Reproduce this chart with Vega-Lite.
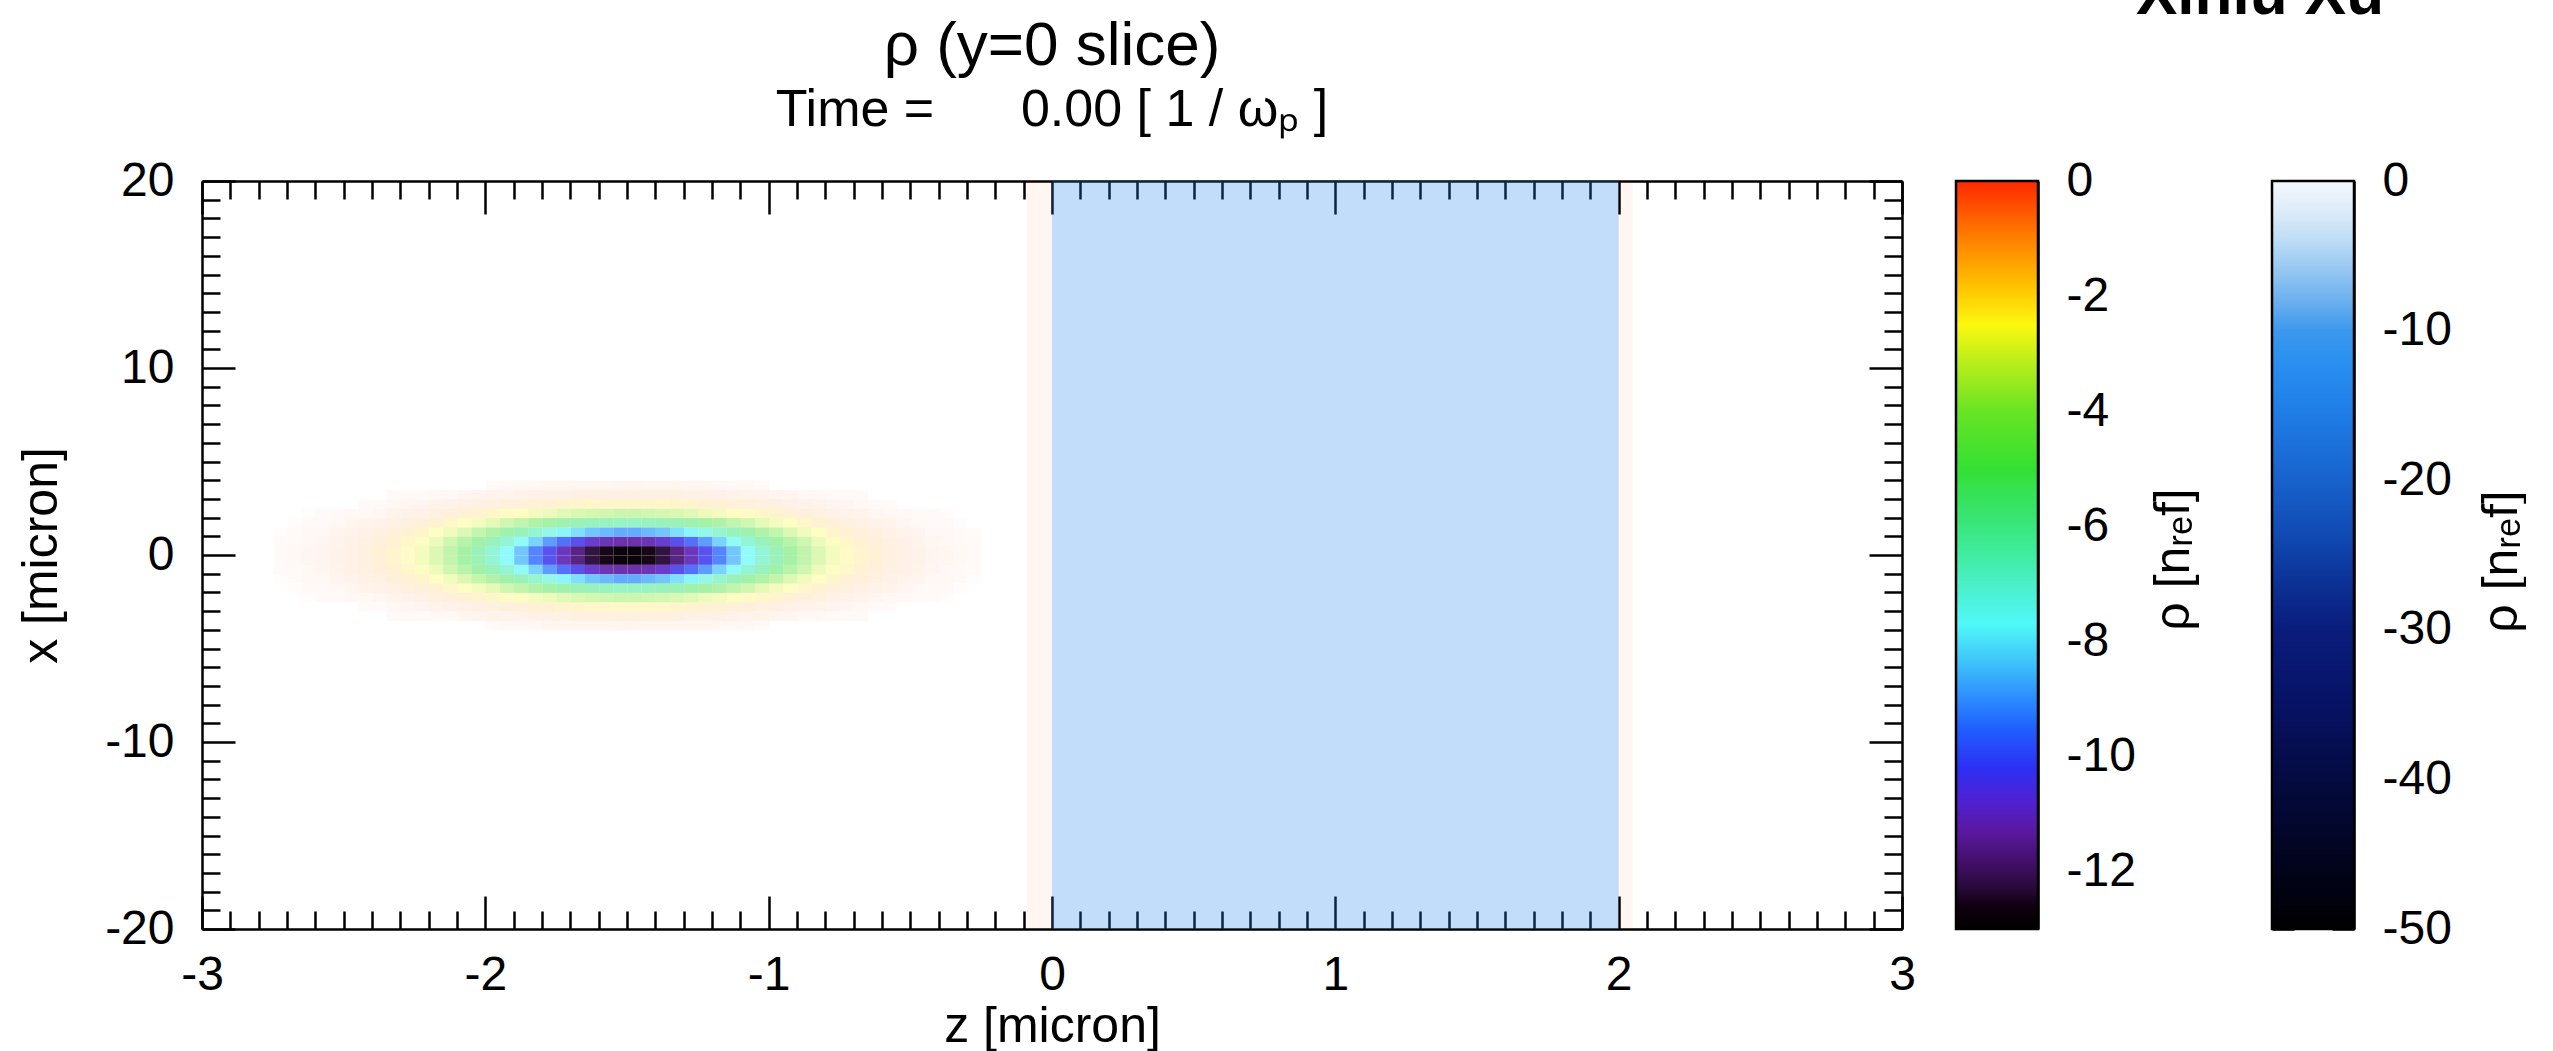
{
  "$schema": "https://vega.github.io/schema/vega-lite/v6.json",
  "background": "white",
  "autosize": {"type": "pad"},
  "padding": {"left": 16, "top": -36, "right": 0, "bottom": 0},
  "config": {
    "font": "Liberation Sans",
    "view": {"stroke": null},
    "axis": {"zindex": 1, "grid": false, "labelFont": "Liberation Sans", "labelFontSize": 48, "labelColor": "black", "tickColor": "black", "tickWidth": 2.5, "domainColor": "black", "domainWidth": 2.5, "titleFont": "Liberation Sans", "titleFontSize": 50, "titleFontWeight": "normal", "titleColor": "black", "labelFlush": false, "labelOverlap": false},
    "title": {"font": "Liberation Sans", "color": "black", "fontWeight": "normal", "subtitleFont": "Liberation Sans", "subtitleColor": "black"}
  },
  "bounds": "flush",
  "spacing": 54,
  "hconcat": [
    {
      "width": 1700,
      "height": 748,
      "title": {"text": "ρ (y=0 slice)", "subtitle": "Time =\u00a0\u00a0\u00a0\u00a0\u00a0 0.00 [ 1 / ωₚ ]", "fontSize": 62, "subtitleFontSize": 52, "anchor": "middle", "frame": "group", "offset": 20, "subtitlePadding": 7},
      "resolve": {"scale": {"color": "independent", "opacity": "independent"}, "axis": {"x": "independent", "y": "independent"}},
      "layer": [
        {
          "data": {"values": [{"z0": 0, "z1": 2, "x0": -20, "x1": 20, "rho": -14}]},
          "mark": {"type": "rect"},
          "encoding": {
            "x": {"field": "z0", "type": "quantitative", "scale": {"domain": [-3, 3], "nice": false, "zero": false},
                  "axis": {"orient": "bottom", "values": [-3, -2, -1, 0, 1, 2, 3], "tickSize": -33, "labelPadding": 55, "labelExpr": "'' + datum.value", "title": "z [micron]", "titleX": 850, "titleY": 97, "titleBaseline": "middle", "titleAlign": "center", "domain": true}},
            "x2": {"field": "z1"},
            "y": {"field": "x0", "type": "quantitative", "scale": {"domain": [-20, 20], "nice": false, "zero": false},
                  "axis": {"orient": "left", "values": [-20, -10, 0, 10, 20], "tickSize": -33, "labelPadding": 61, "labelExpr": "'' + datum.value", "title": "x [micron]", "titleX": -161, "titleY": 374, "titleAngle": 270, "titleBaseline": "middle", "titleAlign": "center", "domain": true}},
            "y2": {"field": "x1"},
            "color": {"field": "rho", "type": "quantitative", "legend": null,
                      "scale": {"domain": [-50, -45, -40, -35, -30, -27, -24, -20, -15, -12, -10, -8, -6, -4, -2, 0], "range": ["#000000", "#020420", "#050a40", "#071264", "#0a1c7c", "#0c3094", "#1048b0", "#1862cc", "#2080e8", "#2a90f0", "#3c98ec", "#6cb0ee", "#94c6f1", "#bcdcf5", "#dcecf9", "#f4f8fc"], "interpolate": "rgb", "nice": false, "zero": false}},
            "opacity": {"field": "rho", "type": "quantitative", "legend": null, "scale": {"domain": [-50, 0], "range": [1, 0], "nice": false, "zero": false}}
          }
        },
        {
          "data": {"values": [
{"z":-2.55,"x":-0.5,"rho":-0.7},{"z":-2.5,"x":-0.5,"rho":-0.9},{"z":-2.45,"x":-0.5,"rho":-1.1},{"z":-2.4,"x":-0.5,"rho":-1.5},{"z":-2.35,"x":-0.5,"rho":-1.9},{"z":-2.3,"x":-0.5,"rho":-2.3},{"z":-2.25,"x":-0.5,"rho":-2.9},{"z":-2.2,"x":-0.5,"rho":-3.5},{"z":-2.15,"x":-0.5,"rho":-4.2},{"z":-2.1,"x":-0.5,"rho":-5},{"z":-2.05,"x":-0.5,"rho":-5.9},{"z":-2,"x":-0.5,"rho":-6.8},{"z":-1.95,"x":-0.5,"rho":-7.7},{"z":-1.9,"x":-0.5,"rho":-8.6},{"z":-1.85,"x":-0.5,"rho":-9.5},{"z":-1.8,"x":-0.5,"rho":-10.3},{"z":-1.75,"x":-0.5,"rho":-11.1},{"z":-1.7,"x":-0.5,"rho":-11.7},{"z":-1.65,"x":-0.5,"rho":-12.3},{"z":-1.6,"x":-0.5,"rho":-12.6},{"z":-1.55,"x":-0.5,"rho":-12.8},{"z":-1.5,"x":-0.5,"rho":-12.8},{"z":-1.45,"x":-0.5,"rho":-12.6},{"z":-1.4,"x":-0.5,"rho":-12.3},{"z":-1.35,"x":-0.5,"rho":-11.7},{"z":-1.3,"x":-0.5,"rho":-11.1},{"z":-1.25,"x":-0.5,"rho":-10.3},{"z":-1.2,"x":-0.5,"rho":-9.5},{"z":-1.15,"x":-0.5,"rho":-8.6},{"z":-1.1,"x":-0.5,"rho":-7.7},{"z":-1.05,"x":-0.5,"rho":-6.8},{"z":-1,"x":-0.5,"rho":-5.9},{"z":-0.95,"x":-0.5,"rho":-5},{"z":-0.9,"x":-0.5,"rho":-4.2},{"z":-0.85,"x":-0.5,"rho":-3.5},{"z":-0.8,"x":-0.5,"rho":-2.9},{"z":-0.75,"x":-0.5,"rho":-2.3},{"z":-0.7,"x":-0.5,"rho":-1.9},{"z":-0.65,"x":-0.5,"rho":-1.5},{"z":-0.6,"x":-0.5,"rho":-1.1},{"z":-0.55,"x":-0.5,"rho":-0.9},{"z":-0.5,"x":-0.5,"rho":-0.7},
{"z":-2.55,"x":0,"rho":-0.7},{"z":-2.5,"x":0,"rho":-0.9},{"z":-2.45,"x":0,"rho":-1.1},{"z":-2.4,"x":0,"rho":-1.5},{"z":-2.35,"x":0,"rho":-1.9},{"z":-2.3,"x":0,"rho":-2.3},{"z":-2.25,"x":0,"rho":-2.9},{"z":-2.2,"x":0,"rho":-3.5},{"z":-2.15,"x":0,"rho":-4.2},{"z":-2.1,"x":0,"rho":-5},{"z":-2.05,"x":0,"rho":-5.9},{"z":-2,"x":0,"rho":-6.8},{"z":-1.95,"x":0,"rho":-7.7},{"z":-1.9,"x":0,"rho":-8.6},{"z":-1.85,"x":0,"rho":-9.5},{"z":-1.8,"x":0,"rho":-10.3},{"z":-1.75,"x":0,"rho":-11.1},{"z":-1.7,"x":0,"rho":-11.7},{"z":-1.65,"x":0,"rho":-12.3},{"z":-1.6,"x":0,"rho":-12.6},{"z":-1.55,"x":0,"rho":-12.8},{"z":-1.5,"x":0,"rho":-12.8},{"z":-1.45,"x":0,"rho":-12.6},{"z":-1.4,"x":0,"rho":-12.3},{"z":-1.35,"x":0,"rho":-11.7},{"z":-1.3,"x":0,"rho":-11.1},{"z":-1.25,"x":0,"rho":-10.3},{"z":-1.2,"x":0,"rho":-9.5},{"z":-1.15,"x":0,"rho":-8.6},{"z":-1.1,"x":0,"rho":-7.7},{"z":-1.05,"x":0,"rho":-6.8},{"z":-1,"x":0,"rho":-5.9},{"z":-0.95,"x":0,"rho":-5},{"z":-0.9,"x":0,"rho":-4.2},{"z":-0.85,"x":0,"rho":-3.5},{"z":-0.8,"x":0,"rho":-2.9},{"z":-0.75,"x":0,"rho":-2.3},{"z":-0.7,"x":0,"rho":-1.9},{"z":-0.65,"x":0,"rho":-1.5},{"z":-0.6,"x":0,"rho":-1.1},{"z":-0.55,"x":0,"rho":-0.9},{"z":-0.5,"x":0,"rho":-0.7},
{"z":-2.55,"x":-1,"rho":-0.6},{"z":-2.5,"x":-1,"rho":-0.8},{"z":-2.45,"x":-1,"rho":-1},{"z":-2.4,"x":-1,"rho":-1.3},{"z":-2.35,"x":-1,"rho":-1.6},{"z":-2.3,"x":-1,"rho":-2.1},{"z":-2.25,"x":-1,"rho":-2.6},{"z":-2.2,"x":-1,"rho":-3.1},{"z":-2.15,"x":-1,"rho":-3.8},{"z":-2.1,"x":-1,"rho":-4.5},{"z":-2.05,"x":-1,"rho":-5.2},{"z":-2,"x":-1,"rho":-6},{"z":-1.95,"x":-1,"rho":-6.8},{"z":-1.9,"x":-1,"rho":-7.6},{"z":-1.85,"x":-1,"rho":-8.4},{"z":-1.8,"x":-1,"rho":-9.2},{"z":-1.75,"x":-1,"rho":-9.8},{"z":-1.7,"x":-1,"rho":-10.4},{"z":-1.65,"x":-1,"rho":-10.9},{"z":-1.6,"x":-1,"rho":-11.2},{"z":-1.55,"x":-1,"rho":-11.3},{"z":-1.5,"x":-1,"rho":-11.3},{"z":-1.45,"x":-1,"rho":-11.2},{"z":-1.4,"x":-1,"rho":-10.9},{"z":-1.35,"x":-1,"rho":-10.4},{"z":-1.3,"x":-1,"rho":-9.8},{"z":-1.25,"x":-1,"rho":-9.2},{"z":-1.2,"x":-1,"rho":-8.4},{"z":-1.15,"x":-1,"rho":-7.6},{"z":-1.1,"x":-1,"rho":-6.8},{"z":-1.05,"x":-1,"rho":-6},{"z":-1,"x":-1,"rho":-5.2},{"z":-0.95,"x":-1,"rho":-4.5},{"z":-0.9,"x":-1,"rho":-3.8},{"z":-0.85,"x":-1,"rho":-3.1},{"z":-0.8,"x":-1,"rho":-2.6},{"z":-0.75,"x":-1,"rho":-2.1},{"z":-0.7,"x":-1,"rho":-1.6},{"z":-0.65,"x":-1,"rho":-1.3},{"z":-0.6,"x":-1,"rho":-1},{"z":-0.55,"x":-1,"rho":-0.8},{"z":-0.5,"x":-1,"rho":-0.6},
{"z":-2.55,"x":0.5,"rho":-0.6},{"z":-2.5,"x":0.5,"rho":-0.8},{"z":-2.45,"x":0.5,"rho":-1},{"z":-2.4,"x":0.5,"rho":-1.3},{"z":-2.35,"x":0.5,"rho":-1.6},{"z":-2.3,"x":0.5,"rho":-2.1},{"z":-2.25,"x":0.5,"rho":-2.6},{"z":-2.2,"x":0.5,"rho":-3.1},{"z":-2.15,"x":0.5,"rho":-3.8},{"z":-2.1,"x":0.5,"rho":-4.5},{"z":-2.05,"x":0.5,"rho":-5.2},{"z":-2,"x":0.5,"rho":-6},{"z":-1.95,"x":0.5,"rho":-6.8},{"z":-1.9,"x":0.5,"rho":-7.6},{"z":-1.85,"x":0.5,"rho":-8.4},{"z":-1.8,"x":0.5,"rho":-9.2},{"z":-1.75,"x":0.5,"rho":-9.8},{"z":-1.7,"x":0.5,"rho":-10.4},{"z":-1.65,"x":0.5,"rho":-10.9},{"z":-1.6,"x":0.5,"rho":-11.2},{"z":-1.55,"x":0.5,"rho":-11.3},{"z":-1.5,"x":0.5,"rho":-11.3},{"z":-1.45,"x":0.5,"rho":-11.2},{"z":-1.4,"x":0.5,"rho":-10.9},{"z":-1.35,"x":0.5,"rho":-10.4},{"z":-1.3,"x":0.5,"rho":-9.8},{"z":-1.25,"x":0.5,"rho":-9.2},{"z":-1.2,"x":0.5,"rho":-8.4},{"z":-1.15,"x":0.5,"rho":-7.6},{"z":-1.1,"x":0.5,"rho":-6.8},{"z":-1.05,"x":0.5,"rho":-6},{"z":-1,"x":0.5,"rho":-5.2},{"z":-0.95,"x":0.5,"rho":-4.5},{"z":-0.9,"x":0.5,"rho":-3.8},{"z":-0.85,"x":0.5,"rho":-3.1},{"z":-0.8,"x":0.5,"rho":-2.6},{"z":-0.75,"x":0.5,"rho":-2.1},{"z":-0.7,"x":0.5,"rho":-1.6},{"z":-0.65,"x":0.5,"rho":-1.3},{"z":-0.6,"x":0.5,"rho":-1},{"z":-0.55,"x":0.5,"rho":-0.8},{"z":-0.5,"x":0.5,"rho":-0.6},
{"z":-2.55,"x":-1.5,"rho":-0.5},{"z":-2.5,"x":-1.5,"rho":-0.6},{"z":-2.45,"x":-1.5,"rho":-0.8},{"z":-2.4,"x":-1.5,"rho":-1},{"z":-2.35,"x":-1.5,"rho":-1.3},{"z":-2.3,"x":-1.5,"rho":-1.6},{"z":-2.25,"x":-1.5,"rho":-2},{"z":-2.2,"x":-1.5,"rho":-2.5},{"z":-2.15,"x":-1.5,"rho":-3},{"z":-2.1,"x":-1.5,"rho":-3.5},{"z":-2.05,"x":-1.5,"rho":-4.1},{"z":-2,"x":-1.5,"rho":-4.7},{"z":-1.95,"x":-1.5,"rho":-5.4},{"z":-1.9,"x":-1.5,"rho":-6},{"z":-1.85,"x":-1.5,"rho":-6.6},{"z":-1.8,"x":-1.5,"rho":-7.2},{"z":-1.75,"x":-1.5,"rho":-7.8},{"z":-1.7,"x":-1.5,"rho":-8.2},{"z":-1.65,"x":-1.5,"rho":-8.6},{"z":-1.6,"x":-1.5,"rho":-8.8},{"z":-1.55,"x":-1.5,"rho":-9},{"z":-1.5,"x":-1.5,"rho":-9},{"z":-1.45,"x":-1.5,"rho":-8.8},{"z":-1.4,"x":-1.5,"rho":-8.6},{"z":-1.35,"x":-1.5,"rho":-8.2},{"z":-1.3,"x":-1.5,"rho":-7.8},{"z":-1.25,"x":-1.5,"rho":-7.2},{"z":-1.2,"x":-1.5,"rho":-6.6},{"z":-1.15,"x":-1.5,"rho":-6},{"z":-1.1,"x":-1.5,"rho":-5.4},{"z":-1.05,"x":-1.5,"rho":-4.7},{"z":-1,"x":-1.5,"rho":-4.1},{"z":-0.95,"x":-1.5,"rho":-3.5},{"z":-0.9,"x":-1.5,"rho":-3},{"z":-0.85,"x":-1.5,"rho":-2.5},{"z":-0.8,"x":-1.5,"rho":-2},{"z":-0.75,"x":-1.5,"rho":-1.6},{"z":-0.7,"x":-1.5,"rho":-1.3},{"z":-0.65,"x":-1.5,"rho":-1},{"z":-0.6,"x":-1.5,"rho":-0.8},{"z":-0.55,"x":-1.5,"rho":-0.6},{"z":-0.5,"x":-1.5,"rho":-0.5},
{"z":-2.55,"x":1,"rho":-0.5},{"z":-2.5,"x":1,"rho":-0.6},{"z":-2.45,"x":1,"rho":-0.8},{"z":-2.4,"x":1,"rho":-1},{"z":-2.35,"x":1,"rho":-1.3},{"z":-2.3,"x":1,"rho":-1.6},{"z":-2.25,"x":1,"rho":-2},{"z":-2.2,"x":1,"rho":-2.5},{"z":-2.15,"x":1,"rho":-3},{"z":-2.1,"x":1,"rho":-3.5},{"z":-2.05,"x":1,"rho":-4.1},{"z":-2,"x":1,"rho":-4.7},{"z":-1.95,"x":1,"rho":-5.4},{"z":-1.9,"x":1,"rho":-6},{"z":-1.85,"x":1,"rho":-6.6},{"z":-1.8,"x":1,"rho":-7.2},{"z":-1.75,"x":1,"rho":-7.8},{"z":-1.7,"x":1,"rho":-8.2},{"z":-1.65,"x":1,"rho":-8.6},{"z":-1.6,"x":1,"rho":-8.8},{"z":-1.55,"x":1,"rho":-9},{"z":-1.5,"x":1,"rho":-9},{"z":-1.45,"x":1,"rho":-8.8},{"z":-1.4,"x":1,"rho":-8.6},{"z":-1.35,"x":1,"rho":-8.2},{"z":-1.3,"x":1,"rho":-7.8},{"z":-1.25,"x":1,"rho":-7.2},{"z":-1.2,"x":1,"rho":-6.6},{"z":-1.15,"x":1,"rho":-6},{"z":-1.1,"x":1,"rho":-5.4},{"z":-1.05,"x":1,"rho":-4.7},{"z":-1,"x":1,"rho":-4.1},{"z":-0.95,"x":1,"rho":-3.5},{"z":-0.9,"x":1,"rho":-3},{"z":-0.85,"x":1,"rho":-2.5},{"z":-0.8,"x":1,"rho":-2},{"z":-0.75,"x":1,"rho":-1.6},{"z":-0.7,"x":1,"rho":-1.3},{"z":-0.65,"x":1,"rho":-1},{"z":-0.6,"x":1,"rho":-0.8},{"z":-0.55,"x":1,"rho":-0.6},{"z":-0.5,"x":1,"rho":-0.5},
{"z":-2.55,"x":-2,"rho":-0.3},{"z":-2.5,"x":-2,"rho":-0.4},{"z":-2.45,"x":-2,"rho":-0.6},{"z":-2.4,"x":-2,"rho":-0.7},{"z":-2.35,"x":-2,"rho":-0.9},{"z":-2.3,"x":-2,"rho":-1.1},{"z":-2.25,"x":-2,"rho":-1.4},{"z":-2.2,"x":-2,"rho":-1.7},{"z":-2.15,"x":-2,"rho":-2.1},{"z":-2.1,"x":-2,"rho":-2.5},{"z":-2.05,"x":-2,"rho":-2.9},{"z":-2,"x":-2,"rho":-3.3},{"z":-1.95,"x":-2,"rho":-3.8},{"z":-1.9,"x":-2,"rho":-4.2},{"z":-1.85,"x":-2,"rho":-4.7},{"z":-1.8,"x":-2,"rho":-5.1},{"z":-1.75,"x":-2,"rho":-5.4},{"z":-1.7,"x":-2,"rho":-5.8},{"z":-1.65,"x":-2,"rho":-6},{"z":-1.6,"x":-2,"rho":-6.2},{"z":-1.55,"x":-2,"rho":-6.3},{"z":-1.5,"x":-2,"rho":-6.3},{"z":-1.45,"x":-2,"rho":-6.2},{"z":-1.4,"x":-2,"rho":-6},{"z":-1.35,"x":-2,"rho":-5.8},{"z":-1.3,"x":-2,"rho":-5.4},{"z":-1.25,"x":-2,"rho":-5.1},{"z":-1.2,"x":-2,"rho":-4.7},{"z":-1.15,"x":-2,"rho":-4.2},{"z":-1.1,"x":-2,"rho":-3.8},{"z":-1.05,"x":-2,"rho":-3.3},{"z":-1,"x":-2,"rho":-2.9},{"z":-0.95,"x":-2,"rho":-2.5},{"z":-0.9,"x":-2,"rho":-2.1},{"z":-0.85,"x":-2,"rho":-1.7},{"z":-0.8,"x":-2,"rho":-1.4},{"z":-0.75,"x":-2,"rho":-1.1},{"z":-0.7,"x":-2,"rho":-0.9},{"z":-0.65,"x":-2,"rho":-0.7},{"z":-0.6,"x":-2,"rho":-0.6},{"z":-0.55,"x":-2,"rho":-0.4},{"z":-0.5,"x":-2,"rho":-0.3},
{"z":-2.55,"x":1.5,"rho":-0.3},{"z":-2.5,"x":1.5,"rho":-0.4},{"z":-2.45,"x":1.5,"rho":-0.6},{"z":-2.4,"x":1.5,"rho":-0.7},{"z":-2.35,"x":1.5,"rho":-0.9},{"z":-2.3,"x":1.5,"rho":-1.1},{"z":-2.25,"x":1.5,"rho":-1.4},{"z":-2.2,"x":1.5,"rho":-1.7},{"z":-2.15,"x":1.5,"rho":-2.1},{"z":-2.1,"x":1.5,"rho":-2.5},{"z":-2.05,"x":1.5,"rho":-2.9},{"z":-2,"x":1.5,"rho":-3.3},{"z":-1.95,"x":1.5,"rho":-3.8},{"z":-1.9,"x":1.5,"rho":-4.2},{"z":-1.85,"x":1.5,"rho":-4.7},{"z":-1.8,"x":1.5,"rho":-5.1},{"z":-1.75,"x":1.5,"rho":-5.4},{"z":-1.7,"x":1.5,"rho":-5.8},{"z":-1.65,"x":1.5,"rho":-6},{"z":-1.6,"x":1.5,"rho":-6.2},{"z":-1.55,"x":1.5,"rho":-6.3},{"z":-1.5,"x":1.5,"rho":-6.3},{"z":-1.45,"x":1.5,"rho":-6.2},{"z":-1.4,"x":1.5,"rho":-6},{"z":-1.35,"x":1.5,"rho":-5.8},{"z":-1.3,"x":1.5,"rho":-5.4},{"z":-1.25,"x":1.5,"rho":-5.1},{"z":-1.2,"x":1.5,"rho":-4.7},{"z":-1.15,"x":1.5,"rho":-4.2},{"z":-1.1,"x":1.5,"rho":-3.8},{"z":-1.05,"x":1.5,"rho":-3.3},{"z":-1,"x":1.5,"rho":-2.9},{"z":-0.95,"x":1.5,"rho":-2.5},{"z":-0.9,"x":1.5,"rho":-2.1},{"z":-0.85,"x":1.5,"rho":-1.7},{"z":-0.8,"x":1.5,"rho":-1.4},{"z":-0.75,"x":1.5,"rho":-1.1},{"z":-0.7,"x":1.5,"rho":-0.9},{"z":-0.65,"x":1.5,"rho":-0.7},{"z":-0.6,"x":1.5,"rho":-0.6},{"z":-0.55,"x":1.5,"rho":-0.4},{"z":-0.5,"x":1.5,"rho":-0.3},
{"z":-2.55,"x":-2.5,"rho":-0.2},{"z":-2.5,"x":-2.5,"rho":-0.3},{"z":-2.45,"x":-2.5,"rho":-0.3},{"z":-2.4,"x":-2.5,"rho":-0.4},{"z":-2.35,"x":-2.5,"rho":-0.6},{"z":-2.3,"x":-2.5,"rho":-0.7},{"z":-2.25,"x":-2.5,"rho":-0.9},{"z":-2.2,"x":-2.5,"rho":-1.1},{"z":-2.15,"x":-2.5,"rho":-1.3},{"z":-2.1,"x":-2.5,"rho":-1.5},{"z":-2.05,"x":-2.5,"rho":-1.8},{"z":-2,"x":-2.5,"rho":-2.1},{"z":-1.95,"x":-2.5,"rho":-2.3},{"z":-1.9,"x":-2.5,"rho":-2.6},{"z":-1.85,"x":-2.5,"rho":-2.9},{"z":-1.8,"x":-2.5,"rho":-3.1},{"z":-1.75,"x":-2.5,"rho":-3.4},{"z":-1.7,"x":-2.5,"rho":-3.6},{"z":-1.65,"x":-2.5,"rho":-3.7},{"z":-1.6,"x":-2.5,"rho":-3.8},{"z":-1.55,"x":-2.5,"rho":-3.9},{"z":-1.5,"x":-2.5,"rho":-3.9},{"z":-1.45,"x":-2.5,"rho":-3.8},{"z":-1.4,"x":-2.5,"rho":-3.7},{"z":-1.35,"x":-2.5,"rho":-3.6},{"z":-1.3,"x":-2.5,"rho":-3.4},{"z":-1.25,"x":-2.5,"rho":-3.1},{"z":-1.2,"x":-2.5,"rho":-2.9},{"z":-1.15,"x":-2.5,"rho":-2.6},{"z":-1.1,"x":-2.5,"rho":-2.3},{"z":-1.05,"x":-2.5,"rho":-2.1},{"z":-1,"x":-2.5,"rho":-1.8},{"z":-0.95,"x":-2.5,"rho":-1.5},{"z":-0.9,"x":-2.5,"rho":-1.3},{"z":-0.85,"x":-2.5,"rho":-1.1},{"z":-0.8,"x":-2.5,"rho":-0.9},{"z":-0.75,"x":-2.5,"rho":-0.7},{"z":-0.7,"x":-2.5,"rho":-0.6},{"z":-0.65,"x":-2.5,"rho":-0.4},{"z":-0.6,"x":-2.5,"rho":-0.3},{"z":-0.55,"x":-2.5,"rho":-0.3},{"z":-0.5,"x":-2.5,"rho":-0.2},
{"z":-2.55,"x":2,"rho":-0.2},{"z":-2.5,"x":2,"rho":-0.3},{"z":-2.45,"x":2,"rho":-0.3},{"z":-2.4,"x":2,"rho":-0.4},{"z":-2.35,"x":2,"rho":-0.6},{"z":-2.3,"x":2,"rho":-0.7},{"z":-2.25,"x":2,"rho":-0.9},{"z":-2.2,"x":2,"rho":-1.1},{"z":-2.15,"x":2,"rho":-1.3},{"z":-2.1,"x":2,"rho":-1.5},{"z":-2.05,"x":2,"rho":-1.8},{"z":-2,"x":2,"rho":-2.1},{"z":-1.95,"x":2,"rho":-2.3},{"z":-1.9,"x":2,"rho":-2.6},{"z":-1.85,"x":2,"rho":-2.9},{"z":-1.8,"x":2,"rho":-3.1},{"z":-1.75,"x":2,"rho":-3.4},{"z":-1.7,"x":2,"rho":-3.6},{"z":-1.65,"x":2,"rho":-3.7},{"z":-1.6,"x":2,"rho":-3.8},{"z":-1.55,"x":2,"rho":-3.9},{"z":-1.5,"x":2,"rho":-3.9},{"z":-1.45,"x":2,"rho":-3.8},{"z":-1.4,"x":2,"rho":-3.7},{"z":-1.35,"x":2,"rho":-3.6},{"z":-1.3,"x":2,"rho":-3.4},{"z":-1.25,"x":2,"rho":-3.1},{"z":-1.2,"x":2,"rho":-2.9},{"z":-1.15,"x":2,"rho":-2.6},{"z":-1.1,"x":2,"rho":-2.3},{"z":-1.05,"x":2,"rho":-2.1},{"z":-1,"x":2,"rho":-1.8},{"z":-0.95,"x":2,"rho":-1.5},{"z":-0.9,"x":2,"rho":-1.3},{"z":-0.85,"x":2,"rho":-1.1},{"z":-0.8,"x":2,"rho":-0.9},{"z":-0.75,"x":2,"rho":-0.7},{"z":-0.7,"x":2,"rho":-0.6},{"z":-0.65,"x":2,"rho":-0.4},{"z":-0.6,"x":2,"rho":-0.3},{"z":-0.55,"x":2,"rho":-0.3},{"z":-0.5,"x":2,"rho":-0.2},
{"z":-2.45,"x":-3,"rho":-0.2},{"z":-2.4,"x":-3,"rho":-0.2},{"z":-2.35,"x":-3,"rho":-0.3},{"z":-2.3,"x":-3,"rho":-0.4},{"z":-2.25,"x":-3,"rho":-0.5},{"z":-2.2,"x":-3,"rho":-0.6},{"z":-2.15,"x":-3,"rho":-0.7},{"z":-2.1,"x":-3,"rho":-0.8},{"z":-2.05,"x":-3,"rho":-1},{"z":-2,"x":-3,"rho":-1.1},{"z":-1.95,"x":-3,"rho":-1.3},{"z":-1.9,"x":-3,"rho":-1.4},{"z":-1.85,"x":-3,"rho":-1.6},{"z":-1.8,"x":-3,"rho":-1.7},{"z":-1.75,"x":-3,"rho":-1.9},{"z":-1.7,"x":-3,"rho":-2},{"z":-1.65,"x":-3,"rho":-2.1},{"z":-1.6,"x":-3,"rho":-2.1},{"z":-1.55,"x":-3,"rho":-2.1},{"z":-1.5,"x":-3,"rho":-2.1},{"z":-1.45,"x":-3,"rho":-2.1},{"z":-1.4,"x":-3,"rho":-2.1},{"z":-1.35,"x":-3,"rho":-2},{"z":-1.3,"x":-3,"rho":-1.9},{"z":-1.25,"x":-3,"rho":-1.7},{"z":-1.2,"x":-3,"rho":-1.6},{"z":-1.15,"x":-3,"rho":-1.4},{"z":-1.1,"x":-3,"rho":-1.3},{"z":-1.05,"x":-3,"rho":-1.1},{"z":-1,"x":-3,"rho":-1},{"z":-0.95,"x":-3,"rho":-0.8},{"z":-0.9,"x":-3,"rho":-0.7},{"z":-0.85,"x":-3,"rho":-0.6},{"z":-0.8,"x":-3,"rho":-0.5},{"z":-0.75,"x":-3,"rho":-0.4},{"z":-0.7,"x":-3,"rho":-0.3},{"z":-0.65,"x":-3,"rho":-0.2},{"z":-0.6,"x":-3,"rho":-0.2},
{"z":-2.45,"x":2.5,"rho":-0.2},{"z":-2.4,"x":2.5,"rho":-0.2},{"z":-2.35,"x":2.5,"rho":-0.3},{"z":-2.3,"x":2.5,"rho":-0.4},{"z":-2.25,"x":2.5,"rho":-0.5},{"z":-2.2,"x":2.5,"rho":-0.6},{"z":-2.15,"x":2.5,"rho":-0.7},{"z":-2.1,"x":2.5,"rho":-0.8},{"z":-2.05,"x":2.5,"rho":-1},{"z":-2,"x":2.5,"rho":-1.1},{"z":-1.95,"x":2.5,"rho":-1.3},{"z":-1.9,"x":2.5,"rho":-1.4},{"z":-1.85,"x":2.5,"rho":-1.6},{"z":-1.8,"x":2.5,"rho":-1.7},{"z":-1.75,"x":2.5,"rho":-1.9},{"z":-1.7,"x":2.5,"rho":-2},{"z":-1.65,"x":2.5,"rho":-2.1},{"z":-1.6,"x":2.5,"rho":-2.1},{"z":-1.55,"x":2.5,"rho":-2.1},{"z":-1.5,"x":2.5,"rho":-2.1},{"z":-1.45,"x":2.5,"rho":-2.1},{"z":-1.4,"x":2.5,"rho":-2.1},{"z":-1.35,"x":2.5,"rho":-2},{"z":-1.3,"x":2.5,"rho":-1.9},{"z":-1.25,"x":2.5,"rho":-1.7},{"z":-1.2,"x":2.5,"rho":-1.6},{"z":-1.15,"x":2.5,"rho":-1.4},{"z":-1.1,"x":2.5,"rho":-1.3},{"z":-1.05,"x":2.5,"rho":-1.1},{"z":-1,"x":2.5,"rho":-1},{"z":-0.95,"x":2.5,"rho":-0.8},{"z":-0.9,"x":2.5,"rho":-0.7},{"z":-0.85,"x":2.5,"rho":-0.6},{"z":-0.8,"x":2.5,"rho":-0.5},{"z":-0.75,"x":2.5,"rho":-0.4},{"z":-0.7,"x":2.5,"rho":-0.3},{"z":-0.65,"x":2.5,"rho":-0.2},{"z":-0.6,"x":2.5,"rho":-0.2},
{"z":-2.35,"x":-3.5,"rho":-0.2},{"z":-2.3,"x":-3.5,"rho":-0.2},{"z":-2.25,"x":-3.5,"rho":-0.2},{"z":-2.2,"x":-3.5,"rho":-0.3},{"z":-2.15,"x":-3.5,"rho":-0.3},{"z":-2.1,"x":-3.5,"rho":-0.4},{"z":-2.05,"x":-3.5,"rho":-0.5},{"z":-2,"x":-3.5,"rho":-0.6},{"z":-1.95,"x":-3.5,"rho":-0.6},{"z":-1.9,"x":-3.5,"rho":-0.7},{"z":-1.85,"x":-3.5,"rho":-0.8},{"z":-1.8,"x":-3.5,"rho":-0.8},{"z":-1.75,"x":-3.5,"rho":-0.9},{"z":-1.7,"x":-3.5,"rho":-1},{"z":-1.65,"x":-3.5,"rho":-1},{"z":-1.6,"x":-3.5,"rho":-1},{"z":-1.55,"x":-3.5,"rho":-1},{"z":-1.5,"x":-3.5,"rho":-1},{"z":-1.45,"x":-3.5,"rho":-1},{"z":-1.4,"x":-3.5,"rho":-1},{"z":-1.35,"x":-3.5,"rho":-1},{"z":-1.3,"x":-3.5,"rho":-0.9},{"z":-1.25,"x":-3.5,"rho":-0.8},{"z":-1.2,"x":-3.5,"rho":-0.8},{"z":-1.15,"x":-3.5,"rho":-0.7},{"z":-1.1,"x":-3.5,"rho":-0.6},{"z":-1.05,"x":-3.5,"rho":-0.6},{"z":-1,"x":-3.5,"rho":-0.5},{"z":-0.95,"x":-3.5,"rho":-0.4},{"z":-0.9,"x":-3.5,"rho":-0.3},{"z":-0.85,"x":-3.5,"rho":-0.3},{"z":-0.8,"x":-3.5,"rho":-0.2},{"z":-0.75,"x":-3.5,"rho":-0.2},{"z":-0.7,"x":-3.5,"rho":-0.2},
{"z":-2.35,"x":3,"rho":-0.2},{"z":-2.3,"x":3,"rho":-0.2},{"z":-2.25,"x":3,"rho":-0.2},{"z":-2.2,"x":3,"rho":-0.3},{"z":-2.15,"x":3,"rho":-0.3},{"z":-2.1,"x":3,"rho":-0.4},{"z":-2.05,"x":3,"rho":-0.5},{"z":-2,"x":3,"rho":-0.6},{"z":-1.95,"x":3,"rho":-0.6},{"z":-1.9,"x":3,"rho":-0.7},{"z":-1.85,"x":3,"rho":-0.8},{"z":-1.8,"x":3,"rho":-0.8},{"z":-1.75,"x":3,"rho":-0.9},{"z":-1.7,"x":3,"rho":-1},{"z":-1.65,"x":3,"rho":-1},{"z":-1.6,"x":3,"rho":-1},{"z":-1.55,"x":3,"rho":-1},{"z":-1.5,"x":3,"rho":-1},{"z":-1.45,"x":3,"rho":-1},{"z":-1.4,"x":3,"rho":-1},{"z":-1.35,"x":3,"rho":-1},{"z":-1.3,"x":3,"rho":-0.9},{"z":-1.25,"x":3,"rho":-0.8},{"z":-1.2,"x":3,"rho":-0.8},{"z":-1.15,"x":3,"rho":-0.7},{"z":-1.1,"x":3,"rho":-0.6},{"z":-1.05,"x":3,"rho":-0.6},{"z":-1,"x":3,"rho":-0.5},{"z":-0.95,"x":3,"rho":-0.4},{"z":-0.9,"x":3,"rho":-0.3},{"z":-0.85,"x":3,"rho":-0.3},{"z":-0.8,"x":3,"rho":-0.2},{"z":-0.75,"x":3,"rho":-0.2},{"z":-0.7,"x":3,"rho":-0.2},
{"z":-2,"x":-4,"rho":-0.2},{"z":-1.95,"x":-4,"rho":-0.3},{"z":-1.9,"x":-4,"rho":-0.3},{"z":-1.85,"x":-4,"rho":-0.3},{"z":-1.8,"x":-4,"rho":-0.4},{"z":-1.75,"x":-4,"rho":-0.4},{"z":-1.7,"x":-4,"rho":-0.4},{"z":-1.65,"x":-4,"rho":-0.4},{"z":-1.6,"x":-4,"rho":-0.4},{"z":-1.55,"x":-4,"rho":-0.5},{"z":-1.5,"x":-4,"rho":-0.5},{"z":-1.45,"x":-4,"rho":-0.4},{"z":-1.4,"x":-4,"rho":-0.4},{"z":-1.35,"x":-4,"rho":-0.4},{"z":-1.3,"x":-4,"rho":-0.4},{"z":-1.25,"x":-4,"rho":-0.4},{"z":-1.2,"x":-4,"rho":-0.3},{"z":-1.15,"x":-4,"rho":-0.3},{"z":-1.1,"x":-4,"rho":-0.3},{"z":-1.05,"x":-4,"rho":-0.2},
{"z":-2,"x":3.5,"rho":-0.2},{"z":-1.95,"x":3.5,"rho":-0.3},{"z":-1.9,"x":3.5,"rho":-0.3},{"z":-1.85,"x":3.5,"rho":-0.3},{"z":-1.8,"x":3.5,"rho":-0.4},{"z":-1.75,"x":3.5,"rho":-0.4},{"z":-1.7,"x":3.5,"rho":-0.4},{"z":-1.65,"x":3.5,"rho":-0.4},{"z":-1.6,"x":3.5,"rho":-0.4},{"z":-1.55,"x":3.5,"rho":-0.5},{"z":-1.5,"x":3.5,"rho":-0.5},{"z":-1.45,"x":3.5,"rho":-0.4},{"z":-1.4,"x":3.5,"rho":-0.4},{"z":-1.35,"x":3.5,"rho":-0.4},{"z":-1.3,"x":3.5,"rho":-0.4},{"z":-1.25,"x":3.5,"rho":-0.4},{"z":-1.2,"x":3.5,"rho":-0.3},{"z":-1.15,"x":3.5,"rho":-0.3},{"z":-1.1,"x":3.5,"rho":-0.3},{"z":-1.05,"x":3.5,"rho":-0.2},
{"z":-2.75,"x":-0.5,"rho":-0.2},{"z":-2.7,"x":-0.5,"rho":-0.3},{"z":-2.65,"x":-0.5,"rho":-0.4},{"z":-2.6,"x":-0.5,"rho":-0.5},{"z":-0.45,"x":-0.5,"rho":-0.5},{"z":-0.4,"x":-0.5,"rho":-0.4},{"z":-0.35,"x":-0.5,"rho":-0.3},{"z":-0.3,"x":-0.5,"rho":-0.2},
{"z":-2.75,"x":0,"rho":-0.2},{"z":-2.7,"x":0,"rho":-0.3},{"z":-2.65,"x":0,"rho":-0.4},{"z":-2.6,"x":0,"rho":-0.5},{"z":-0.45,"x":0,"rho":-0.5},{"z":-0.4,"x":0,"rho":-0.4},{"z":-0.35,"x":0,"rho":-0.3},{"z":-0.3,"x":0,"rho":-0.2},
{"z":-2.75,"x":-1,"rho":-0.2},{"z":-2.7,"x":-1,"rho":-0.2},{"z":-2.65,"x":-1,"rho":-0.3},{"z":-2.6,"x":-1,"rho":-0.4},{"z":-0.45,"x":-1,"rho":-0.4},{"z":-0.4,"x":-1,"rho":-0.3},{"z":-0.35,"x":-1,"rho":-0.2},{"z":-0.3,"x":-1,"rho":-0.2},
{"z":-2.75,"x":0.5,"rho":-0.2},{"z":-2.7,"x":0.5,"rho":-0.2},{"z":-2.65,"x":0.5,"rho":-0.3},{"z":-2.6,"x":0.5,"rho":-0.4},{"z":-0.45,"x":0.5,"rho":-0.4},{"z":-0.4,"x":0.5,"rho":-0.3},{"z":-0.35,"x":0.5,"rho":-0.2},{"z":-0.3,"x":0.5,"rho":-0.2},
{"z":-2.75,"x":-1.5,"rho":-0.1},{"z":-2.7,"x":-1.5,"rho":-0.2},{"z":-2.65,"x":-1.5,"rho":-0.3},{"z":-2.6,"x":-1.5,"rho":-0.3},{"z":-0.45,"x":-1.5,"rho":-0.3},{"z":-0.4,"x":-1.5,"rho":-0.3},{"z":-0.35,"x":-1.5,"rho":-0.2},{"z":-0.3,"x":-1.5,"rho":-0.1},
{"z":-2.75,"x":1,"rho":-0.1},{"z":-2.7,"x":1,"rho":-0.2},{"z":-2.65,"x":1,"rho":-0.3},{"z":-2.6,"x":1,"rho":-0.3},{"z":-0.45,"x":1,"rho":-0.3},{"z":-0.4,"x":1,"rho":-0.3},{"z":-0.35,"x":1,"rho":-0.2},{"z":-0.3,"x":1,"rho":-0.1},
{"z":-2.7,"x":-2,"rho":-0.1},{"z":-2.65,"x":-2,"rho":-0.2},{"z":-2.6,"x":-2,"rho":-0.2},{"z":-0.45,"x":-2,"rho":-0.2},{"z":-0.4,"x":-2,"rho":-0.2},{"z":-0.35,"x":-2,"rho":-0.1},
{"z":-2.7,"x":1.5,"rho":-0.1},{"z":-2.65,"x":1.5,"rho":-0.2},{"z":-2.6,"x":1.5,"rho":-0.2},{"z":-0.45,"x":1.5,"rho":-0.2},{"z":-0.4,"x":1.5,"rho":-0.2},{"z":-0.35,"x":1.5,"rho":-0.1},
{"z":-2.65,"x":-2.5,"rho":-0.1},{"z":-2.6,"x":-2.5,"rho":-0.2},{"z":-0.45,"x":-2.5,"rho":-0.2},{"z":-0.4,"x":-2.5,"rho":-0.1},
{"z":-2.65,"x":2,"rho":-0.1},{"z":-2.6,"x":2,"rho":-0.2},{"z":-0.45,"x":2,"rho":-0.2},{"z":-0.4,"x":2,"rho":-0.1}
          ]},
          "mark": {"type": "rect"},
          "encoding": {
            "x": {"field": "z", "type": "quantitative", "bin": {"binned": true, "step": 0.05}, "scale": {"domain": [-3, 3], "nice": false, "zero": false},
                  "axis": {"orient": "top", "values": [-3, -2, -1, 0, 1, 2, 3], "tickSize": -33, "labels": false, "title": null, "domain": true}},
            "y": {"field": "x", "type": "quantitative", "bin": {"binned": true, "step": 0.5}, "scale": {"domain": [-20, 20], "nice": false, "zero": false},
                  "axis": {"orient": "right", "values": [-20, -10, 0, 10, 20], "tickSize": -33, "labels": false, "title": null, "domain": true}},
            "color": {"field": "rho", "type": "quantitative", "legend": null,
                      "scale": {"domain": [-13, -12.6, -12.3, -11.8, -11.3, -10.8, -10.2, -9.5, -9, -8.3, -7.7, -7.1, -6.5, -5.8, -5, -4, -3.2, -2.5, -1.8, -1, 0], "range": ["#000000", "#100010", "#280838", "#44106c", "#5a18a0", "#5020d0", "#2c30f4", "#2060ff", "#2c8cff", "#40c8f8", "#50f8f8", "#4cf0d0", "#40eca0", "#38e470", "#34e034", "#68e424", "#b4ee1c", "#fcf810", "#ffc000", "#ff8000", "#ff2800"], "interpolate": "rgb", "nice": false, "zero": false}},
            "opacity": {"field": "rho", "type": "quantitative", "legend": null, "scale": {"type": "pow", "exponent": 0.85, "domain": [-13, 0], "range": [1, 0], "nice": false, "zero": false}}
          }
        },
        {
          "data": {"values": [{"z0": -0.09, "z1": 0, "x0": -20, "x1": 20, "rho": -0.4}, {"z0": 2, "z1": 2.05, "x0": -20, "x1": 20, "rho": -0.4}]},
          "mark": {"type": "rect"},
          "encoding": {
            "x": {"field": "z0", "type": "quantitative", "scale": {"domain": [-3, 3], "nice": false, "zero": false},
                  "axis": {"orient": "bottom", "values": [-2.9, -2.8, -2.7, -2.6, -2.5, -2.4, -2.3, -2.2, -2.1, -1.9, -1.8, -1.7, -1.6, -1.5, -1.4, -1.3, -1.2, -1.1, -0.9, -0.8, -0.7, -0.6, -0.5, -0.4, -0.3, -0.2, -0.1, 0.1, 0.2, 0.3, 0.4, 0.5, 0.6, 0.7, 0.8, 0.9, 1.1, 1.2, 1.3, 1.4, 1.5, 1.6, 1.7, 1.8, 1.9, 2.1, 2.2, 2.3, 2.4, 2.5, 2.6, 2.7, 2.8, 2.9], "tickSize": -18, "labels": false, "title": null, "domain": false}},
            "x2": {"field": "z1"},
            "y": {"field": "x0", "type": "quantitative", "scale": {"domain": [-20, 20], "nice": false, "zero": false},
                  "axis": {"orient": "left", "values": [-19, -18, -17, -16, -15, -14, -13, -12, -11, -9, -8, -7, -6, -5, -4, -3, -2, -1, 1, 2, 3, 4, 5, 6, 7, 8, 9, 11, 12, 13, 14, 15, 16, 17, 18, 19], "tickSize": -18, "labels": false, "title": null, "domain": false}},
            "y2": {"field": "x1"},
            "color": {"field": "rho", "type": "quantitative", "legend": null,
                      "scale": {"domain": [-13, -12.6, -12.3, -11.8, -11.3, -10.8, -10.2, -9.5, -9, -8.3, -7.7, -7.1, -6.5, -5.8, -5, -4, -3.2, -2.5, -1.8, -1, 0], "range": ["#000000", "#100010", "#280838", "#44106c", "#5a18a0", "#5020d0", "#2c30f4", "#2060ff", "#2c8cff", "#40c8f8", "#50f8f8", "#4cf0d0", "#40eca0", "#38e470", "#34e034", "#68e424", "#b4ee1c", "#fcf810", "#ffc000", "#ff8000", "#ff2800"], "interpolate": "rgb", "nice": false, "zero": false}},
            "opacity": {"field": "rho", "type": "quantitative", "legend": null, "scale": {"type": "pow", "exponent": 0.85, "domain": [-13, 0], "range": [1, 0], "nice": false, "zero": false}}
          }
        },
        {
          "data": {"values": [{"z0": 0, "z1": 2, "x0": -20, "x1": 20}]},
          "mark": {"type": "rect", "opacity": 0},
          "encoding": {
            "x": {"field": "z0", "type": "quantitative", "scale": {"domain": [-3, 3], "nice": false, "zero": false},
                  "axis": {"orient": "top", "values": [-2.9, -2.8, -2.7, -2.6, -2.5, -2.4, -2.3, -2.2, -2.1, -1.9, -1.8, -1.7, -1.6, -1.5, -1.4, -1.3, -1.2, -1.1, -0.9, -0.8, -0.7, -0.6, -0.5, -0.4, -0.3, -0.2, -0.1, 0.1, 0.2, 0.3, 0.4, 0.5, 0.6, 0.7, 0.8, 0.9, 1.1, 1.2, 1.3, 1.4, 1.5, 1.6, 1.7, 1.8, 1.9, 2.1, 2.2, 2.3, 2.4, 2.5, 2.6, 2.7, 2.8, 2.9], "tickSize": -18, "labels": false, "title": null, "domain": false}},
            "x2": {"field": "z1"},
            "y": {"field": "x0", "type": "quantitative", "scale": {"domain": [-20, 20], "nice": false, "zero": false},
                  "axis": {"orient": "right", "values": [-19, -18, -17, -16, -15, -14, -13, -12, -11, -9, -8, -7, -6, -5, -4, -3, -2, -1, 1, 2, 3, 4, 5, 6, 7, 8, 9, 11, 12, 13, 14, 15, 16, 17, 18, 19], "tickSize": -18, "labels": false, "title": null, "domain": false}},
            "y2": {"field": "x1"}
          }
        }
      ]
    },
    {
      "width": 82,
      "height": 748,
      "data": {"values": [{"lo": -13, "hi": 0, "left": 0, "right": 1}]},
      "resolve": {"axis": {"y": "independent"}},
      "layer": [
        {
          "mark": {"type": "rect", "stroke": "black", "strokeWidth": 2.5,
                   "fill": {"gradient": "linear", "x1": 0, "y1": 1, "x2": 0, "y2": 0, "stops": [
                     {"offset": 0, "color": "#000000"}, {"offset": 0.0308, "color": "#100010"}, {"offset": 0.0538, "color": "#280838"}, {"offset": 0.0923, "color": "#44106c"}, {"offset": 0.1308, "color": "#5a18a0"}, {"offset": 0.1692, "color": "#5020d0"}, {"offset": 0.2154, "color": "#2c30f4"}, {"offset": 0.2692, "color": "#2060ff"}, {"offset": 0.3077, "color": "#2c8cff"}, {"offset": 0.3615, "color": "#40c8f8"}, {"offset": 0.4077, "color": "#50f8f8"}, {"offset": 0.4538, "color": "#4cf0d0"}, {"offset": 0.5, "color": "#40eca0"}, {"offset": 0.5538, "color": "#38e470"}, {"offset": 0.6154, "color": "#34e034"}, {"offset": 0.6923, "color": "#68e424"}, {"offset": 0.7538, "color": "#b4ee1c"}, {"offset": 0.8077, "color": "#fcf810"}, {"offset": 0.8615, "color": "#ffc000"}, {"offset": 0.9231, "color": "#ff8000"}, {"offset": 1, "color": "#ff2800"}]}},
          "encoding": {
            "x": {"field": "left", "type": "quantitative", "scale": {"domain": [0, 1], "nice": false}, "axis": null},
            "x2": {"field": "right"},
            "y": {"field": "lo", "type": "quantitative", "scale": {"domain": [-13, 0], "nice": false, "zero": false},
                  "axis": {"orient": "right", "values": [-12, -10, -8, -6, -4, -2, 0], "tickSize": -26, "labelPadding": 54, "labelExpr": "'' + datum.value", "title": "ρ [nᵣₑf]", "titleAngle": 270, "titleX": 135, "titleY": 378, "titleBaseline": "middle", "titleAlign": "center", "domain": true}},
            "y2": {"field": "hi"}
          }
        },
        {
          "mark": {"type": "rect", "opacity": 0},
          "encoding": {
            "x": {"field": "left", "type": "quantitative", "scale": {"domain": [0, 1], "nice": false}, "axis": null},
            "x2": {"field": "right"},
            "y": {"field": "lo", "type": "quantitative", "scale": {"domain": [-13, 0], "nice": false, "zero": false},
                  "axis": {"orient": "left", "values": [-12, -10, -8, -6, -4, -2, 0], "tickSize": -26, "labels": false, "title": null, "domain": true}},
            "y2": {"field": "hi"}
          }
        },
        {
          "mark": {"type": "rect", "opacity": 0},
          "encoding": {
            "x": {"field": "left", "type": "quantitative", "scale": {"domain": [0, 1], "nice": false}, "axis": null},
            "x2": {"field": "right"},
            "y": {"field": "lo", "type": "quantitative", "scale": {"domain": [-13, 0], "nice": false, "zero": false},
                  "axis": {"orient": "right", "values": [-0.5, -1, -1.5, -2.5, -3, -3.5, -4.5, -5, -5.5, -6.5, -7, -7.5, -8.5, -9, -9.5, -10.5, -11, -11.5, -12.5], "tickSize": -12, "labels": false, "title": null, "domain": false}},
            "y2": {"field": "hi"}
          }
        },
        {
          "mark": {"type": "rect", "opacity": 0},
          "encoding": {
            "x": {"field": "left", "type": "quantitative", "scale": {"domain": [0, 1], "nice": false}, "axis": null},
            "x2": {"field": "right"},
            "y": {"field": "lo", "type": "quantitative", "scale": {"domain": [-13, 0], "nice": false, "zero": false},
                  "axis": {"orient": "left", "values": [-0.5, -1, -1.5, -2.5, -3, -3.5, -4.5, -5, -5.5, -6.5, -7, -7.5, -8.5, -9, -9.5, -10.5, -11, -11.5, -12.5], "tickSize": -12, "labels": false, "title": null, "domain": false}},
            "y2": {"field": "hi"}
          }
        }
      ]
    },
    {
      "width": 126,
      "height": 748,
      "data": {"values": [{"lo": 0}]},
      "mark": {"type": "point", "opacity": 0},
      "encoding": {}
    },
    {
      "width": 82,
      "height": 748,
      "title": {"text": "Xinlu Xu", "fontSize": 62, "fontWeight": "bold", "anchor": "middle", "frame": "group", "dx": -53, "offset": 130},
      "data": {"values": [{"lo": -50, "hi": 0, "left": 0, "right": 1}]},
      "resolve": {"axis": {"y": "independent"}},
      "layer": [
        {
          "mark": {"type": "rect", "stroke": "black", "strokeWidth": 2.5,
                   "fill": {"gradient": "linear", "x1": 0, "y1": 1, "x2": 0, "y2": 0, "stops": [
                     {"offset": 0, "color": "#000000"}, {"offset": 0.1, "color": "#020420"}, {"offset": 0.2, "color": "#050a40"}, {"offset": 0.3, "color": "#071264"}, {"offset": 0.4, "color": "#0a1c7c"}, {"offset": 0.46, "color": "#0c3094"}, {"offset": 0.52, "color": "#1048b0"}, {"offset": 0.6, "color": "#1862cc"}, {"offset": 0.7, "color": "#2080e8"}, {"offset": 0.76, "color": "#2a90f0"}, {"offset": 0.8, "color": "#3c98ec"}, {"offset": 0.84, "color": "#6cb0ee"}, {"offset": 0.88, "color": "#94c6f1"}, {"offset": 0.92, "color": "#bcdcf5"}, {"offset": 0.96, "color": "#dcecf9"}, {"offset": 1, "color": "#f4f8fc"}]}},
          "encoding": {
            "x": {"field": "left", "type": "quantitative", "scale": {"domain": [0, 1], "nice": false}, "axis": null},
            "x2": {"field": "right"},
            "y": {"field": "lo", "type": "quantitative", "scale": {"domain": [-50, 0], "nice": false, "zero": false},
                  "axis": {"orient": "right", "values": [-50, -40, -30, -20, -10, 0], "tickSize": -22, "labelPadding": 50, "labelExpr": "'' + datum.value", "title": "ρ [nᵣₑf]", "titleAngle": 270, "titleX": 147, "titleY": 380, "titleBaseline": "middle", "titleAlign": "center", "domain": true}},
            "y2": {"field": "hi"}
          }
        },
        {
          "mark": {"type": "rect", "opacity": 0},
          "encoding": {
            "x": {"field": "left", "type": "quantitative", "scale": {"domain": [0, 1], "nice": false}, "axis": null},
            "x2": {"field": "right"},
            "y": {"field": "lo", "type": "quantitative", "scale": {"domain": [-50, 0], "nice": false, "zero": false},
                  "axis": {"orient": "left", "values": [-50, -40, -30, -20, -10, 0], "tickSize": -22, "labels": false, "title": null, "domain": true}},
            "y2": {"field": "hi"}
          }
        },
        {
          "mark": {"type": "rect", "opacity": 0},
          "encoding": {
            "x": {"field": "left", "type": "quantitative", "scale": {"domain": [0, 1], "nice": false}, "axis": null},
            "x2": {"field": "right"},
            "y": {"field": "lo", "type": "quantitative", "scale": {"domain": [-50, 0], "nice": false, "zero": false},
                  "axis": {"orient": "right", "values": [-1, -2, -3, -4, -5, -6, -7, -8, -9, -11, -12, -13, -14, -15, -16, -17, -18, -19, -21, -22, -23, -24, -25, -26, -27, -28, -29, -31, -32, -33, -34, -35, -36, -37, -38, -39, -41, -42, -43, -44, -45, -46, -47, -48, -49], "tickSize": -12, "labels": false, "title": null, "domain": false}},
            "y2": {"field": "hi"}
          }
        },
        {
          "mark": {"type": "rect", "opacity": 0},
          "encoding": {
            "x": {"field": "left", "type": "quantitative", "scale": {"domain": [0, 1], "nice": false}, "axis": null},
            "x2": {"field": "right"},
            "y": {"field": "lo", "type": "quantitative", "scale": {"domain": [-50, 0], "nice": false, "zero": false},
                  "axis": {"orient": "left", "values": [-1, -2, -3, -4, -5, -6, -7, -8, -9, -11, -12, -13, -14, -15, -16, -17, -18, -19, -21, -22, -23, -24, -25, -26, -27, -28, -29, -31, -32, -33, -34, -35, -36, -37, -38, -39, -41, -42, -43, -44, -45, -46, -47, -48, -49], "tickSize": -12, "labels": false, "title": null, "domain": false}},
            "y2": {"field": "hi"}
          }
        }
      ]
    }
  ]
}
